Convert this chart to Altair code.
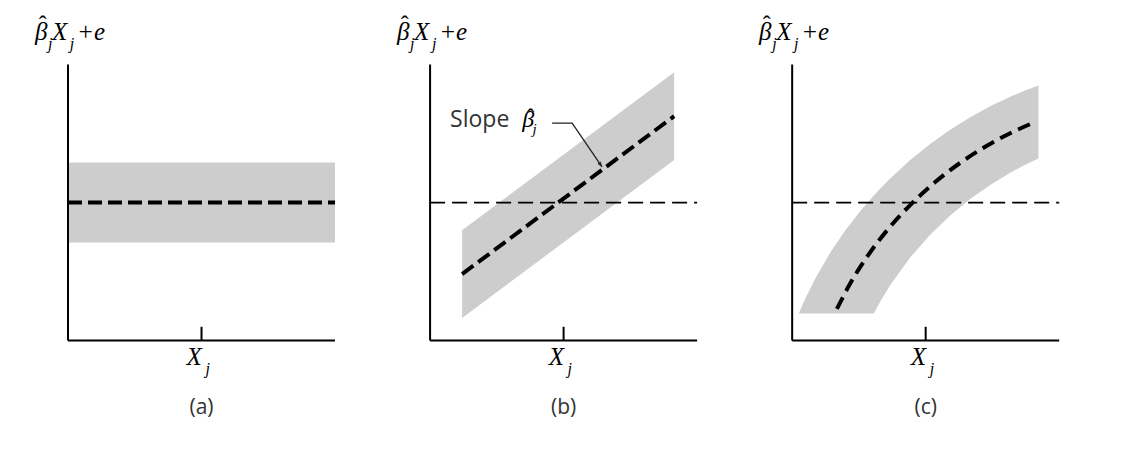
import altair as alt
import pandas as pd

# ---------------- data (panel units: each panel's axes run 0..10) ----------------
PANEL_NAMES = ["(a)", "(b)", "(c)"]
PANEL_OFFSET = [0.0, 13.56, 27.12]   # where each panel's origin sits on the shared x scale

# axis lines and the single x tick (x, x2, y, y2)
AXIS_X = [0.0, 0.0, 5.0]
AXIS_X2 = [0.0, 10.0, 5.0]
AXIS_Y = [0.0, 0.0, 0.0]
AXIS_Y2 = [10.0, 0.0, 0.5]

REF_Y = 5.0  # thin horizontal reference line in (b), (c)

# (a) flat band
A_BAND_X = [0.0, 10.0]
A_BAND_LO = [3.55, 3.55]
A_BAND_HI = [6.45, 6.45]
A_LINE_X = [0.0, 10.0]
A_LINE_Y = [5.0, 5.0]

# (b) linear band
B_BAND_X = [1.2, 9.14]
B_BAND_LO = [0.82, 6.54]
B_BAND_HI = [4.0, 9.72]
B_LINE_X = [1.2, 9.14]
B_LINE_Y = [2.41, 8.13]

# (c) curved band (read along its edges)
C_BAND_X = [0.247, 0.487, 0.861, 1.423, 1.985, 2.547, 3.056, 3.30, 3.670, 4.419, 5.169,
            5.918, 6.667, 7.416, 8.165, 8.727, 9.225]
C_BAND_HI = [0.986, 1.514, 2.243, 3.181, 3.986, 4.688, 5.261, 5.515, 5.877, 6.540, 7.123,
             7.638, 8.091, 8.489, 8.833, 9.065, 9.246]
C_BAND_LO = [0.986, 0.986, 0.986, 0.986, 0.986, 0.986, 0.986, 1.417, 2.007, 3.011, 3.837,
             4.536, 5.130, 5.641, 6.083, 6.370, 6.594]
C_LINE_X = [1.674, 2.172, 2.921, 3.670, 4.494, 5.356, 6.292, 7.228, 8.165, 9.101]
C_LINE_Y = [1.149, 2.065, 3.196, 4.127, 4.982, 5.743, 6.438, 7.022, 7.514, 7.920]

# slope annotation in (b)
ARROW_X = [4.57, 5.32, 6.44]
ARROW_Y = [7.88, 7.88, 6.29]
ARROW_ORDER = [0, 1, 2]
ARROW_ANGLE = 326
SLOPE_WORD = "Slope"
SLOPE_POS = (0.75, 7.74)
SLOPE_BETA_POS = (3.45, 7.74)
SLOPE_HAT_POS = (3.76, 7.82)
SLOPE_SUB_POS = (3.84, 7.48)

# y-axis label pieces: beta-hat_j X_j + e
YL_BIG_TEXT = ["β", "X", "+e"]
YL_BIG_X = [-1.24, -0.6, 0.34]
YL_BIG_Y = [10.89, 10.89, 10.89]
YL_SUB_TEXT = ["j", "j"]
YL_SUB_X = [-0.75, 0.07]
YL_SUB_Y = [10.55, 10.55]
YL_HAT_X = [-0.95]
YL_HAT_Y = [11.18]

# x label X_j and panel name
XL_BIG_X, XL_BIG_Y = 4.44, -0.89
XL_SUB_X, XL_SUB_Y = 5.15, -1.2
NAME_X, NAME_Y = 5.0, -2.66

MATH_FONT = "Liberation Serif"
SANS_FONT = "Open Sans"
BAND_COLOR = "#cdcdcd"
TEXT_GRAY = "#333333"

# one shared coordinate system for the whole figure (1 unit ~ 26.7 px across, 27.6 px up)
SX = alt.Scale(domain=[-2.247, 39.21], nice=False, zero=False)
SY = alt.Scale(domain=[-3.71, 12.05], nice=False, zero=False)


def X(f="x"):
    return alt.X(f"{f}:Q", scale=SX, axis=None)


def Y(f="y"):
    return alt.Y(f"{f}:Q", scale=SY, axis=None)


def shift(xs, off):
    return [v + off for v in xs]


def text_layer(off, xs, ys, texts, size, font, style="normal", align="left", color="black"):
    df = pd.DataFrame({"x": shift(xs, off), "y": ys, "t": texts})
    return alt.Chart(df).mark_text(
        font=font, fontSize=size, fontStyle=style, align=align,
        baseline="alphabetic", color=color
    ).encode(x=X(), y=Y(), text="t:N")


def band(off, xs, lo, hi, interp="linear"):
    df = pd.DataFrame({"x": shift(xs, off), "lo": lo, "hi": hi})
    return alt.Chart(df).mark_area(color=BAND_COLOR, opacity=1, interpolate=interp).encode(
        x=X(), y=Y("hi"), y2="lo:Q"
    )


def thick_line(off, xs, ys, interp="linear", dash=(14, 6)):
    df = pd.DataFrame({"x": shift(xs, off), "y": ys})
    return alt.Chart(df).mark_line(
        color="black", strokeWidth=4, strokeDash=list(dash), strokeCap="butt", interpolate=interp
    ).encode(x=X(), y=Y())


def ref_line(off):
    df = pd.DataFrame({"x": [off], "x2": [off + 10.0], "y": [REF_Y]})
    return alt.Chart(df).mark_rule(color="black", strokeWidth=1.8, strokeDash=[15, 7]).encode(
        x=X(), x2="x2:Q", y=Y()
    )


def axes(off):
    df = pd.DataFrame({"x": shift(AXIS_X, off), "x2": shift(AXIS_X2, off), "y": AXIS_Y, "y2": AXIS_Y2})
    return alt.Chart(df).mark_rule(color="black", strokeWidth=2).encode(
        x=X(), x2="x2:Q", y=Y(), y2="y2:Q"
    )


def hat(off, x, y, size):
    df = pd.DataFrame({"x": [x + off], "y": [y], "t": ["ˆ"]})
    return alt.Chart(df).mark_text(font=MATH_FONT, fontSize=size, align="center",
                                   baseline="alphabetic", color="black").encode(x=X(), y=Y(), text="t:N")


def labels(off, name):
    return [
        text_layer(off, YL_BIG_X, YL_BIG_Y, YL_BIG_TEXT, 25, MATH_FONT, "italic"),
        text_layer(off, YL_SUB_X, YL_SUB_Y, YL_SUB_TEXT, 16, MATH_FONT, "italic"),
        hat(off, YL_HAT_X[0], YL_HAT_Y[0], 24),
        text_layer(off, [XL_BIG_X], [XL_BIG_Y], ["X"], 25, MATH_FONT, "italic"),
        text_layer(off, [XL_SUB_X], [XL_SUB_Y], ["j"], 16, MATH_FONT, "italic"),
        text_layer(off, [NAME_X], [NAME_Y], [name], 21, SANS_FONT, "normal", "center", TEXT_GRAY),
    ]


oa, ob, oc = PANEL_OFFSET

# ---------------- panel (a) ----------------
layers_a = [
    band(oa, A_BAND_X, A_BAND_LO, A_BAND_HI),
    thick_line(oa, A_LINE_X, A_LINE_Y),
    axes(oa),
    *labels(oa, PANEL_NAMES[0]),
]

# ---------------- panel (b) ----------------
arrow_df = pd.DataFrame({"x": shift(ARROW_X, ob), "y": ARROW_Y, "o": ARROW_ORDER})
arrow_line = alt.Chart(arrow_df).mark_line(color="#222222", strokeWidth=1.3).encode(
    x=X(), y=Y(), order="o:Q"
)
arrow_head = alt.Chart(arrow_df.tail(1)).mark_point(
    shape="M0,0L-0.7,-1.9L0.7,-1.9Z", filled=True, color="#222222", opacity=1,
    size=30, angle=ARROW_ANGLE
).encode(x=X(), y=Y())

layers_b = [
    band(ob, B_BAND_X, B_BAND_LO, B_BAND_HI),
    ref_line(ob),
    thick_line(ob, B_LINE_X, B_LINE_Y),
    arrow_line,
    arrow_head,
    text_layer(ob, [SLOPE_POS[0]], [SLOPE_POS[1]], [SLOPE_WORD], 23, SANS_FONT, "normal", "left", TEXT_GRAY),
    text_layer(ob, [SLOPE_BETA_POS[0]], [SLOPE_BETA_POS[1]], ["β"], 24, MATH_FONT, "italic"),
    hat(ob, SLOPE_HAT_POS[0], SLOPE_HAT_POS[1], 23),
    text_layer(ob, [SLOPE_SUB_POS[0]], [SLOPE_SUB_POS[1]], ["j"], 15, MATH_FONT, "italic"),
    axes(ob),
    *labels(ob, PANEL_NAMES[1]),
]

# ---------------- panel (c) ----------------
layers_c = [
    band(oc, C_BAND_X, C_BAND_LO, C_BAND_HI, "linear"),
    ref_line(oc),
    thick_line(oc, C_LINE_X, C_LINE_Y, "monotone", (13, 7)),
    axes(oc),
    *labels(oc, PANEL_NAMES[2]),
]

chart = alt.layer(*layers_a, *layers_b, *layers_c).properties(
    width=1107, height=435,
    padding=0,
    autosize=alt.AutoSizeParams(type="none"),
    background="white",
).configure_view(stroke=None)

chart.save("out.html", embed_options={"renderer": "svg", "actions": False})
